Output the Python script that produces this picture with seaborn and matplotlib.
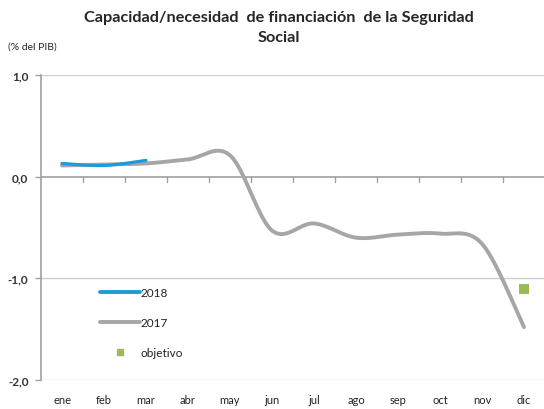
import matplotlib.pyplot as plt
import seaborn as sns
import numpy as np
import pandas as pd
from matplotlib.lines import Line2D

months = ['ene', 'feb', 'mar', 'abr', 'may', 'jun', 'jul', 'ago', 'sep', 'oct', 'nov', 'dic']
values_2017 = [0.11, 0.12, 0.13, 0.17, 0.21, -0.53, -0.46, -0.60, -0.57, -0.56, -0.66, -1.48]
values_2018 = [0.13, 0.11, 0.16]
objetivo_value = [-1.10]
objetivo_month = [11]
y_ticks = [1.0, 0.0, -1.0, -2.0]


def SmoothCurve(y, n=40):
    """Excel-like smoothed line through points (Catmull-Rom Bezier)."""
    x = np.arange(len(y), dtype=float)
    y = np.asarray(y, dtype=float)
    pts = np.column_stack([x, y])
    out = []
    for i in range(len(pts) - 1):
        p0 = pts[i - 1] if i > 0 else pts[i]
        p1 = pts[i]
        p2 = pts[i + 1]
        p3 = pts[i + 2] if i + 2 < len(pts) else pts[i + 1]
        c1 = p1 + (p2 - p0) / 6
        c2 = p2 - (p3 - p1) / 6
        t = np.linspace(0, 1, n)[:, None]
        seg = (1 - t)**3 * p1 + 3 * (1 - t)**2 * t * c1 + 3 * (1 - t) * t**2 * c2 + t**3 * p2
        out.append(seg if i == 0 else seg[1:])
    out = np.vstack(out)
    return pd.DataFrame({'x': out[:, 0], 'y': out[:, 1]})


sns.set_style("white")
plt.rcParams['font.family'] = ['Lato', 'DejaVu Sans']

fig = plt.figure(figsize=(5.44, 4.10), dpi=100)
ax = fig.add_axes([41 / 544, 29 / 410, 504 / 544, 305 / 410])

c17 = '#a6a6a6'
c18 = '#1e9ad6'
cobj = '#9bbb59'

s17 = SmoothCurve(values_2017)
s18 = SmoothCurve(values_2018)
sns.lineplot(data=s17, x='x', y='y', ax=ax, color=c17, linewidth=2.8, sort=False,
             solid_capstyle='round')
sns.lineplot(data=s18, x='x', y='y', ax=ax, color=c18, linewidth=2.3, sort=False,
             solid_capstyle='round')
sns.scatterplot(x=objetivo_month, y=objetivo_value, ax=ax, color=cobj, marker='s', s=45,
                edgecolor=cobj, linewidth=0)

ax.set_xlim(-0.5, 11.5)
ax.set_ylim(-2.0, 1.0)
for yv in [1.0, -1.0, -2.0]:
    ax.axhline(yv, color='#d0d0d0', linewidth=1.0, zorder=0)
ax.axhline(0.0, color='#a0a0a0', linewidth=1.2, zorder=0)

for sp in ['top', 'right', 'bottom']:
    ax.spines[sp].set_visible(False)
ax.spines['left'].set_color('#a0a0a0')
ax.spines['left'].set_linewidth(1.2)

ax.set_yticks(y_ticks)
ax.set_yticklabels([f'{v:.1f}'.replace('.', ',') for v in y_ticks], fontsize=8.5,
                   fontweight='bold', color='#333333')
ax.tick_params(axis='y', length=4, color='#a0a0a0', width=1, pad=5, left=True)
ax.set_xticks(range(len(months)))
ax.set_xticklabels(months, fontsize=8, color='#222222')
ax.tick_params(axis='x', length=0, pad=10)
# tick marks on the zero line between categories
for b in np.arange(0.5, 11.5, 1.0):
    ax.plot([b, b], [0, -0.05], color='#a0a0a0', linewidth=1, clip_on=False)
ax.set_xlabel('')
ax.set_ylabel('')

handles = [Line2D([], [], color=c18, linewidth=2.8),
           Line2D([], [], color=c17, linewidth=2.8),
           Line2D([], [], color=cobj, marker='s', linestyle='none', markersize=5)]
leg = ax.legend(handles, ['2018', '2017', 'objetivo'], loc='upper left',
                bbox_to_anchor=(0.095, 0.34), frameon=False, fontsize=8.5,
                handlelength=3.4, handletextpad=0.1, labelspacing=1.6)
for t in leg.get_texts():
    t.set_color('#222222')

fig.text(0.513, 0.972, 'Capacidad/necesidad  de financiación  de la Seguridad\nSocial',
         ha='center', va='top', fontsize=11.7, fontweight='bold', linespacing=1.5)
fig.text(0.015, 0.885, '(% del PIB)', ha='left', va='center', fontsize=7.5, color='#222222')

plt.savefig('out.png', dpi=100)
